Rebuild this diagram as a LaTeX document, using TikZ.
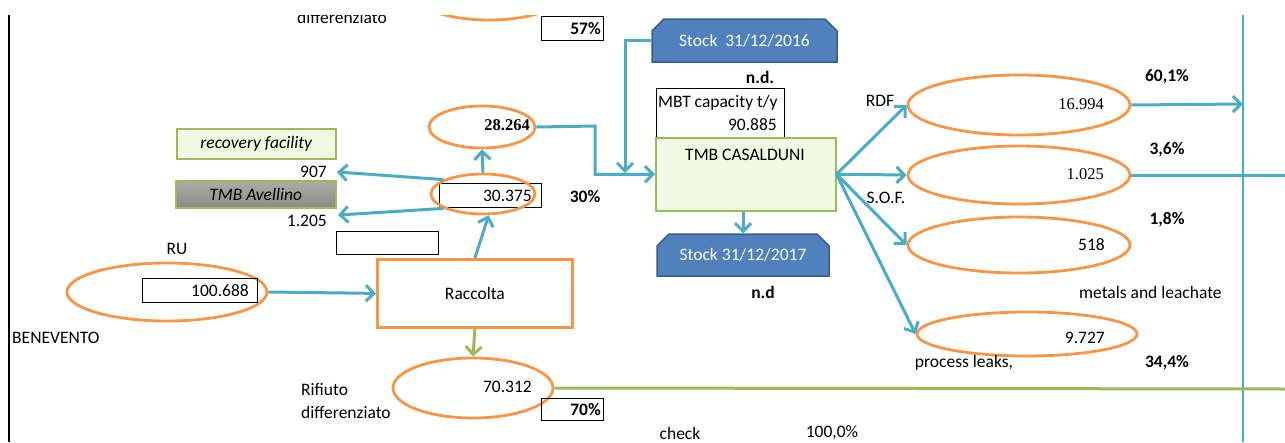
\documentclass[tikz,border=0pt]{standalone}
\usepackage{fontspec}
\setmainfont{Carlito}
\newfontfamily\tms{Liberation Serif}
\usetikzlibrary{shapes.geometric,shapes.misc,arrows.meta}
\definecolor{cBlue}{HTML}{4BACC6}
\definecolor{cOrange}{HTML}{F79646}
\definecolor{cGreen}{HTML}{9BBB59}
\definecolor{cStock}{HTML}{4F81BD}
\definecolor{cStockB}{HTML}{385D8A}
\definecolor{cLight}{HTML}{F2F9E2}
\definecolor{cGrayT}{HTML}{ACACA8}
\definecolor{cGrayB}{HTML}{8A8A86}
\newcommand{\fs}{\fontsize{17.5}{20}\selectfont}
\newcommand{\fsr}{\fontsize{16.5}{19}\selectfont\tms}
\tikzset{
  conn/.style={draw=cBlue, line width=3pt},
  arr/.style={conn, -{Straight Barb[length=8pt,width=16pt]}},
  gline/.style={draw=cGreen, line width=3pt},
  garr/.style={gline, -{Straight Barb[length=8pt,width=16pt]}},
  orng/.style={draw=cOrange, line width=2.8pt, ellipse, inner sep=0pt},
  orbox/.style={draw=cOrange, line width=2.8pt, rectangle, inner sep=0pt, font=\fs},
  bx/.style={draw=black, line width=1pt, rectangle, inner sep=0pt},
  txt/.style={inner sep=0pt, font=\fs},
  txtr/.style={inner sep=0pt, font=\fsr},
  lg/.style={fill=cLight, draw=cGreen, line width=1.5pt, rectangle, inner sep=0pt, font=\fs},
  gr/.style={top color=cGrayT, bottom color=cGrayB, draw=cGreen, line width=1.5pt, rectangle, inner sep=0pt, font=\fs},
  stock/.style={chamfered rectangle, chamfered rectangle corners={north west,north east},
     chamfered rectangle xsep=6pt, chamfered rectangle ysep=6pt,
     fill=cStock, draw=cStockB, line width=1.5pt, text=white, inner sep=0pt, font=\fs}
}
\begin{document}
\begin{tikzpicture}[x=1pt,y=-1pt]
\useasboundingbox (0,0) rectangle (1285,442);
\begin{scope}
\clip (0,15) rectangle (1285,442);
% frame lines
\coordinate (lt) at (9,15);
\coordinate (lb) at (9,442);
\draw[line width=1.4pt] (lt) -- (lb);
\coordinate (vt) at (1243,15);
\coordinate (vb) at (1243,442);
\draw[cBlue, line width=2.2pt] (vt) -- (vb);
\coordinate (rdfEnd) at (1243,104);
\coordinate (sofEnd) at (1285,175);
\coordinate (grEnd) at (1285,389);
\coordinate (j16) at (625,173);
\coordinate (k28) at (595,126);

% top partial block
\node[orng, minimum width=160, minimum height=60] (etop) at (489,-10) {};
\node[txt, anchor=base] (tdiff) at (342,23) {differenziato};
\node[bx, anchor=north west, minimum width=62, minimum height=24] (b57) at (541,16) {};
\node[txt, anchor=east] (t57) at (601,29) {\bfseries 57\%};

% TMB Casalduni block
\node[stock, minimum width=185, minimum height=43] (s16) at (744.5,40.5) {Stock\ \ 31/12/2016\hspace{18pt}};
\node[txt] (nd1) at (760,77) {\bfseries n.d.};
\node[bx, anchor=north west, minimum width=128, minimum height=49] (mbt) at (656,88) {};
\node[txt, anchor=west] (mbt1) at (658,103) {MBT capacity t/y};
\node[txt, anchor=east] (mbt2) at (777,125) {90.885};
\node[lg, anchor=north west, minimum width=180, minimum height=73] (tmb) at (655,137) {};
\node[txt] (tmbt) at (745,155) {TMB CASALDUNI};
\node[stock, minimum width=172, minimum height=42] (s17) at (743,255) {Stock 31/12/2017};
\node[txt] (nd2) at (763,292) {\bfseries n.d};

% outputs
\node[orng, minimum width=222, minimum height=60] (eRDF) at (1019,105) {};
\node[txtr, anchor=east] (vRDF) at (1104,104) {16.994};
\node[orng, minimum width=222, minimum height=58] (eSOF) at (1019,175) {};
\node[txtr, anchor=east] (vSOF) at (1104,174) {1.025};
\node[orng, minimum width=222, minimum height=56] (eMet) at (1019,245) {};
\node[txt, anchor=east] (vMet) at (1105,245) {518};
\node[orng, minimum width=220, minimum height=44] (eLk) at (1027,334) {};
\node[txt, anchor=east] (vLk) at (1105,338) {9.727};
\node[txt] (lRDF) at (880,101) {RDF};
\node[txt] (lSOF) at (886,198) {S.O.F.};
\node[txt, anchor=west] (lMet) at (1079,292) {metals and leachate};
\node[txt] (lLk) at (964,363) {process leaks,};
\node[txt] (p1) at (1167,77) {\bfseries 60,1\%};
\node[txt] (p2) at (1167,150) {\bfseries 3,6\%};
\node[txt] (p3) at (1167,220) {\bfseries 1,8\%};
\node[txt] (p4) at (1167,363) {\bfseries 34,4\%};
\node[txt] (chk) at (680,433) {check};
\node[txt] (chkv) at (832,433) {100,0\%};

% left part
\node[orng, minimum width=106, minimum height=42] (e28) at (482,127) {};
\node[txtr, anchor=east] (v28) at (530,125) {\bfseries 28.264};
\node[bx, anchor=north west, minimum width=102, minimum height=24] (b30) at (439,183) {};
\node[orng, minimum width=104, minimum height=40] (e30) at (483,194) {};
\node[txt, anchor=east] (v30) at (532,196) {30.375};
\node[txt] (p30) at (585,197) {\bfseries 30\%};
\node[lg, anchor=north west, minimum width=159, minimum height=30] (rec) at (176,128) {\itshape recovery facility};
\node[txt, anchor=east] (n907) at (327,172) {907};
\node[gr, anchor=north west, minimum width=160, minimum height=27] (av) at (175,180) {\itshape TMB Avellino};
\node[txt, anchor=east] (n1205) at (327,221) {1.205};
\node[bx, anchor=north west, minimum width=102, minimum height=23] (bempty) at (336,231) {};
\node[txt] (ru) at (177,249) {RU};
\node[orng, minimum width=200, minimum height=58] (eRU) at (167,292) {};
\node[bx, anchor=north west, minimum width=115, minimum height=24] (bRU) at (142,278) {};
\node[txt, anchor=east] (vRU) at (249,291) {100.688};
\node[orbox, anchor=north west, minimum width=195, minimum height=68] (rac) at (376,258) {Raccolta};
\node[txt, anchor=west] (bene) at (12,338) {BENEVENTO};
\node[orng, minimum width=160, minimum height=60] (e70) at (473,388) {};
\node[txt, anchor=east] (v70) at (532,387) {70.312};
\node[txt, anchor=west] (rif1) at (301,390) {Rifiuto};
\node[txt, anchor=west] (rif2) at (301,412) {differenziato};
\node[bx, anchor=north west, minimum width=62, minimum height=22] (b70) at (541,398) {};
\node[txt, anchor=east] (t70) at (601,410) {\bfseries 70\%};

% connectors
\draw[arr] (eRU.east) -- (rac.west);
\draw[arr] (rac.north) -- (e30.-75);
\draw[arr] (e30.north) -- (e28.south);
\draw[arr] (e30.160) -- ([xshift=10pt]n907.east);
\draw[arr] (e30.200) -- ([xshift=11pt]n1205.north east);
\draw[arr] (e28.east) -- (k28) |- (tmb.west);
\draw[arr] (s16.west) -| (j16);
\draw[arr] (tmb.south -| s17.north) -- (s17.north);
\draw[arr] (tmb.east) -- (eRDF.west);
\draw[arr] (tmb.east) -- (eSOF.west);
\draw[arr] (tmb.east) -- (eMet.west);
\draw[arr] (tmb.east) -- (eLk.west);
\draw[arr] (eRDF.east) -- (rdfEnd);
\draw[conn] (eSOF.east) -- (sofEnd);
\draw[garr] (rac.south) -- (e70.north);
\draw[gline] (e70.east) -- (grEnd);
\end{scope}
\end{tikzpicture}
\end{document}
